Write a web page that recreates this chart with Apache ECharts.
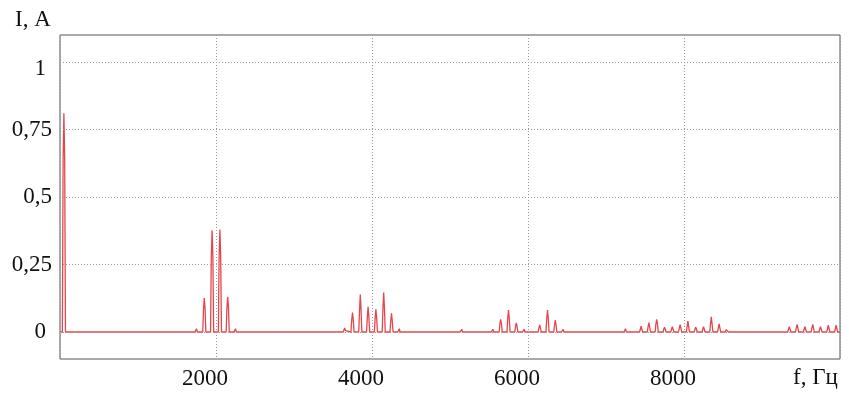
<!DOCTYPE html>
<html>
<head>
<meta charset="utf-8">
<script src="https://cdn.jsdelivr.net/npm/echarts@6/dist/echarts.min.js"></script>
<style>html,body{margin:0;padding:0;background:#fff}#c{width:849px;height:401px}</style>
</head>
<body>
<div id="c"></div>
<script>
// Spectrum lines: frequency (Hz), peak current (A), shoulder level (A)
const spikeFreq = [50, 450, 550, 750, 950, 1050, 1150, 1250, 1350, 1450, 1550, 1650, 1750,
  1850, 1950, 2050, 2150, 2250,
  2450, 2750, 2850, 2950, 3050, 3250, 3350, 3450, 3550,
  3650, 3750, 3850, 3950, 4050, 4150, 4250, 4350,
  4450, 4650, 4750, 4950, 5150, 5250, 5350,
  5550, 5650, 5750, 5850, 5950, 6050, 6150, 6250, 6350, 6450,
  6550, 6850, 6950, 7050, 7150,
  7250, 7350, 7450, 7550, 7650, 7750, 7850, 7950, 8050, 8150, 8250, 8350, 8450, 8550,
  8650, 8850, 9050, 9150, 9250,
  9350, 9450, 9550, 9650, 9750, 9850, 9950];
const spikeAmp = [0.81, 0.004, 0.003, 0.005, 0.005, 0.004, 0.005, 0.004, 0.004, 0.005, 0.004, 0.006, 0.012,
  0.126, 0.376, 0.38, 0.13, 0.012,
  0.004, 0.004, 0.004, 0.004, 0.005, 0.004, 0.004, 0.005, 0.005,
  0.015, 0.072, 0.139, 0.093, 0.084, 0.146, 0.069, 0.012,
  0.004, 0.004, 0.005, 0.004, 0.01, 0.004, 0.003,
  0.01, 0.047, 0.081, 0.034, 0.01, 0.004, 0.026, 0.081, 0.044, 0.01,
  0.004, 0.004, 0.005, 0.005, 0.004,
  0.012, 0.005, 0.022, 0.035, 0.047, 0.018, 0.02, 0.027, 0.04, 0.018, 0.02, 0.056, 0.03, 0.015,
  0.005, 0.004, 0.006, 0.004, 0.004,
  0.02, 0.028, 0.02, 0.028, 0.02, 0.025, 0.025];
const spikeSide = [0.64, 0, 0, 0, 0, 0, 0, 0, 0, 0, 0, 0, 0,
  0.085, 0.28, 0.28, 0.09, 0,
  0, 0, 0, 0, 0, 0, 0, 0, 0,
  0.005, 0.045, 0.08, 0.055, 0.05, 0.085, 0.04, 0,
  0, 0, 0, 0, 0, 0, 0,
  0, 0.03, 0.05, 0.02, 0, 0, 0.015, 0.05, 0.025, 0,
  0, 0, 0, 0, 0,
  0, 0, 0.01, 0.02, 0.03, 0.01, 0.01, 0.015, 0.02, 0.01, 0.01, 0.03, 0.015, 0.008,
  0, 0, 0, 0, 0,
  0.01, 0.015, 0.01, 0.015, 0.01, 0.012, 0.012];
const xTicks = [2000, 4000, 6000, 8000];
const yTicks = [0, 0.25, 0.5, 0.75, 1];

const pts = [[0, 0]];
for (let i = 0; i < spikeFreq.length; i++) {
  const f = spikeFreq[i];
  pts.push([f - 20, 0], [f - 10, spikeSide[i]], [f, spikeAmp[i]], [f + 10, spikeSide[i]], [f + 20, 0]);
}
pts.push([10000, 0]);

const font = 'Liberation Serif';
const fs = 23;
const chart = echarts.init(document.getElementById('c'), null, {renderer: 'canvas'});
chart.setOption({
  animation: false,
  backgroundColor: '#fff',
  grid: {left: 60, right: 9, top: 35, bottom: 42, show: true, borderColor: '#555', borderWidth: 1, backgroundColor: 'transparent'},
  xAxis: {
    type: 'value', min: 0, max: 10000, interval: 2000,
    axisLine: {show: false}, axisTick: {show: false},
    splitLine: {show: true, lineStyle: {color: '#999', type: [1, 2], width: 1}},
    axisLabel: {
      fontFamily: font, fontSize: fs, color: '#111', margin: 8,
      formatter: v => xTicks.indexOf(v) >= 0 ? '{a|' + v + '}' : '',
      rich: {a: {fontFamily: font, fontSize: fs, color: '#111', padding: [0, 22, 0, 0]}}
    }
  },
  yAxis: {
    type: 'value', min: -0.1, max: 1.1,
    axisLine: {show: false}, axisTick: {show: false}, splitLine: {show: false},
    axisLabel: {
      customValues: yTicks,
      fontFamily: font, fontSize: fs, color: '#111', margin: 8,
      formatter: v => {
        const s = String(v).replace('.', ',');
        if (v === 1) return '{t|' + s + '}';
        if (v === 0) return '{z|' + s + '}';
        return '{d|' + s + '}';
      },
      rich: {
        t: {fontFamily: font, fontSize: fs, color: '#111', padding: [14, 6, 0, 0]},
        z: {fontFamily: font, fontSize: fs, color: '#111', padding: [0, 6, 0, 0]},
        d: {fontFamily: font, fontSize: fs, color: '#111'}
      }
    }
  },
  graphic: [
    {type: 'text', left: 15, top: 8, style: {text: 'I, A', font: fs + 'px "Liberation Serif"', fill: '#111'}},
    {type: 'text', left: 793, top: 366, style: {text: 'f, Гц', font: fs + 'px "Liberation Serif"', fill: '#111'}}
  ],
  series: [
    {
      type: 'line', data: [], silent: true, z: 1,
      markLine: {
        silent: true, symbol: 'none', label: {show: false},
        lineStyle: {color: '#999', type: [1, 2], width: 1},
        data: yTicks.map(v => ({yAxis: v}))
      }
    },
    {
      type: 'line', data: pts, showSymbol: false, symbol: 'none', z: 3,
      lineStyle: {color: '#e3474d', width: 1.3}
    }
  ]
});
</script>
</body>
</html>
